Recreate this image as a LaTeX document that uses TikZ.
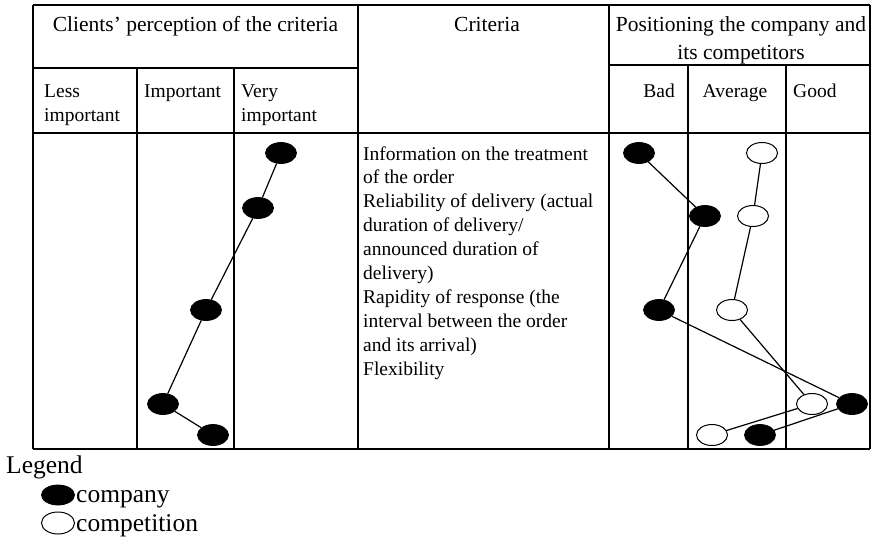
\documentclass[tikz,border=0pt]{standalone}
\usepackage{fontspec}
\setmainfont{Liberation Serif}
\usetikzlibrary{shapes.geometric}

\newcommand\hdrfont{\fontsize{21.5}{28}\selectfont}
\newcommand\celfont{\fontsize{19.5}{23.9}\selectfont}
\newcommand\lgdfont{\fontsize{25.5}{29}\selectfont}

\tikzset{
  company/.style={ellipse, fill=black, draw=black, line width=0.8pt, minimum width=31, minimum height=21, inner sep=0pt},
  competitor/.style={ellipse, fill=white, draw=black, line width=1pt, minimum width=31, minimum height=21, inner sep=0pt},
  tabline/.style={line width=1.4pt},
  link/.style={line width=1.2pt},
  txt/.style={inner sep=0pt},
}

\begin{document}
\begin{tikzpicture}[x=1pt,y=1pt,yscale=-1,xscale=1]
  \useasboundingbox (0,0) rectangle (873,538);

  %Table frame
  \draw[tabline] (33,5) -- (870,5);
  \draw[tabline] (33,5) -- (33,449);
  \draw[tabline] (358,5) -- (358,449);
  \draw[tabline] (609,5) -- (609,449);
  \draw[tabline] (870,5) -- (870,449);
  \draw[tabline] (33,68) -- (358,68);
  \draw[tabline] (609,65) -- (870,65);
  \draw[tabline] (33,133) -- (870,133);
  \draw[tabline] (33,449) -- (870,449);
  %Column rules
  \draw[tabline] (137,68) -- (137,449);
  \draw[tabline] (234,68) -- (234,449);
  \draw[tabline] (688,65) -- (688,449);
  \draw[tabline] (786,65) -- (786,449);

  % Text Node
  \node[txt, anchor=base, font=\hdrfont] (perception) at (195.5,31) {Clients’ perception of the criteria};
  % Text Node
  \node[txt, anchor=base, font=\hdrfont] (criteria) at (487,31) {Criteria};
  % Text Node
  \node[txt, anchor=base, font=\hdrfont] (positioning) at (741,31) {Positioning the company and};
  \node[txt, anchor=base, font=\hdrfont] (positioning2) at (741,59) {its competitors};

  % Text Node
  \node[txt, anchor=base west, font=\celfont] (less) at (44,97) {Less};
  \node[txt, anchor=base west, font=\celfont] (lessimp) at (44,121) {important};
  % Text Node
  \node[txt, anchor=base west, font=\celfont] (imp) at (144,97) {Important};
  % Text Node
  \node[txt, anchor=base west, font=\celfont] (very) at (241,97) {Very};
  \node[txt, anchor=base west, font=\celfont] (veryimp) at (241,121) {important};
  % Text Node
  \node[txt, anchor=base east, font=\celfont] (bad) at (675,97) {Bad};
  % Text Node
  \node[txt, anchor=base, font=\celfont] (average) at (735,97) {Average};
  % Text Node
  \node[txt, anchor=base west, font=\celfont] (good) at (793,97) {Good};

  % Criteria list, one line each
  \foreach \t [count=\i from 0] in {Information on the treatment, of the order,
      Reliability of delivery (actual, duration of delivery/,
      announced duration of, delivery), Rapidity of response (the,
      interval between the order, and its arrival), Flexibility}
    \node[txt, anchor=base west, font=\celfont] (crit\i) at (363,160+23.9*\i) {\t};

  %Clients' perception
  \node[company] (cp1) at (281,153) {};
  \node[company] (cp2) at (258,208) {};
  \node[company] (cp3) at (206,310) {};
  \node[company] (cp4) at (163,404) {};
  \node[company] (cp5) at (213,435) {};

  %Company
  \node[company] (co1) at (639,153) {};
  \node[company] (co2) at (705,216) {};
  \node[company] (co3) at (659,310) {};
  \node[company] (co4) at (852,404) {};
  \node[company] (co5) at (760,435) {};

  %Competition
  \node[competitor] (cm1) at (762,153) {};
  \node[competitor] (cm2) at (753,216) {};
  \node[competitor] (cm3) at (732,310) {};
  \node[competitor] (cm4) at (812,404) {};
  \node[competitor] (cm5) at (712,435) {};

  %Straight Lines
  \draw[link] (cp1) -- (cp2) -- (cp3) -- (cp4) -- (cp5);
  \draw[link] (co1) -- (co2) -- (co3) -- (co4) -- (co5);
  \draw[link] (cm1) -- (cm2) -- (cm3) -- (cm4) -- (cm5);

  %Legend
  \node[txt, anchor=base west, font=\lgdfont] (legend) at (6,473) {Legend};
  \node[company, minimum width=33, minimum height=20] (lgco) at (58,495) {};
  \node[competitor, minimum width=33, minimum height=22] (lgcm) at (58,523) {};
  \node[txt, anchor=base west, font=\lgdfont] (lgcotext) at (76,502) {company};
  \node[txt, anchor=base west, font=\lgdfont] (lgcmtext) at (76,531) {competition};
\end{tikzpicture}
\end{document}
